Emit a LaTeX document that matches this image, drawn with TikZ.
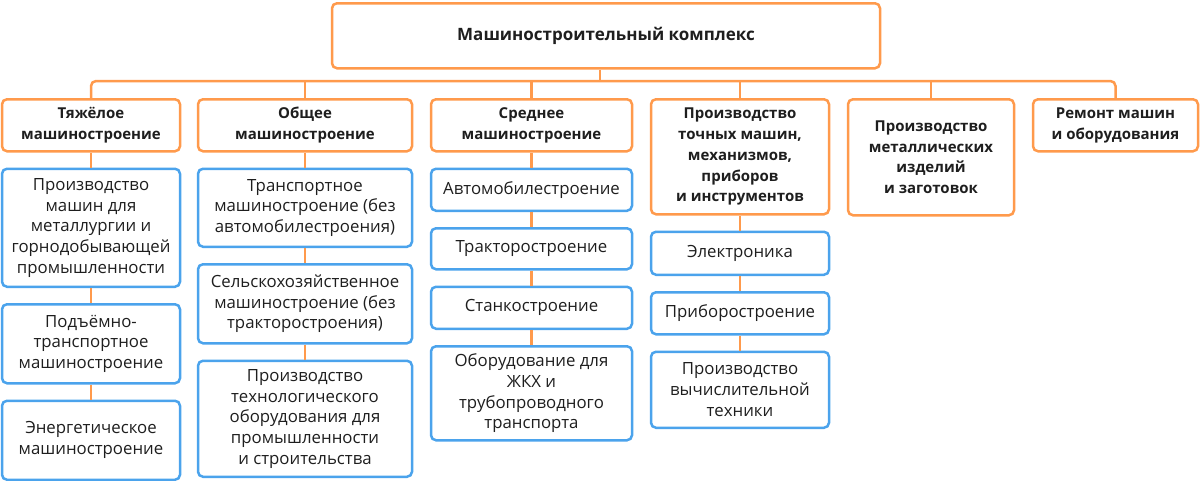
\documentclass[tikz,border=0pt]{standalone}
\usepackage{fontspec}
\setmainfont{Open Sans}
\usetikzlibrary{positioning}
\definecolor{accent}{HTML}{FF9A4C}
\definecolor{branch}{HTML}{4BA3EC}
\definecolor{ink}{HTML}{1E1E1E}

\begin{document}
\begin{tikzpicture}[
  x=1pt,y=-1pt,
  font=\fontsize{16.8}{20.7}\selectfont,
  node distance=15pt,
  head/.style={draw=accent,line width=2.5pt,rounded corners=5pt,align=center,inner sep=0pt,text=ink,font=\fontsize{15}{20.7}\selectfont\bfseries,anchor=north},
  item/.style={draw=branch,line width=2.5pt,rounded corners=5pt,align=center,inner sep=0pt,text=ink},
  link/.style={draw=accent,line width=2.5pt},
]
\useasboundingbox (0,0) rectangle (1200,480);

\node[head,minimum width=548pt,minimum height=65pt,font=\fontsize{17}{22}\selectfont\bfseries] (complex) at (606,2) {Машиностроительный комплекс};

% first level
\node[head,minimum width=178pt,minimum height=52pt] (heavy) at (91,98) {Тяжёлое\\машиностроение};
\node[head,minimum width=214pt,minimum height=52pt] (general) at (305,98) {Общее\\машиностроение};
\node[head,minimum width=201pt,minimum height=52pt] (medium) at (531.5,98) {Среднее\\машиностроение};
\node[head,minimum width=178pt,minimum height=115pt] (precise) at (740,98) {Производство\\точных машин,\\механизмов,\\приборов\\и инструментов};
\node[head,minimum width=166pt,minimum height=116pt] (metal) at (931,98) {Производство\\металлических\\изделий\\и заготовок};
\node[head,minimum width=165pt,minimum height=52pt] (repair) at (1115.5,98) {Ремонт машин\\и оборудования};

% heavy
\node[item,minimum width=178pt,minimum height=118pt,below=of heavy] (mining) {Производство\\машин для\\металлургии и\\горнодобывающей\\промышленности};
\node[item,minimum width=178pt,minimum height=79pt,below=of mining] (lifting) {Подъёмно-\\транспортное\\машиностроение};
\node[item,minimum width=178pt,minimum height=79pt,below=of lifting] (energy) {Энергетическое\\машиностроение};

% general
\node[item,minimum width=214pt,minimum height=78pt,below=of general] (transport) {Транспортное\\машиностроение (без\\автомобилестроения)};
\node[item,minimum width=214pt,minimum height=79pt,below=of transport] (agro) {Сельскохозяйственное\\машиностроение (без\\тракторостроения)};
\node[item,minimum width=214pt,minimum height=116pt,below=of agro] (techno) {Производство\\технологического\\оборудования для\\промышленности\\и строительства};

% medium
\node[item,minimum width=201pt,minimum height=42pt,below=of medium] (auto) {Автомобилестроение};
\node[item,minimum width=201pt,minimum height=41pt,below=of auto] (tractor) {Тракторостроение};
\node[item,minimum width=201pt,minimum height=42pt,below=of tractor] (machine) {Станкостроение};
\node[item,minimum width=201pt,minimum height=94pt,below=of machine] (housing) {Оборудование для\\ЖКХ и\\трубопроводного\\транспорта};

% precise
\node[item,minimum width=178pt,minimum height=43pt,below=of precise] (electro) {Электроника};
\node[item,minimum width=178pt,minimum height=42pt,below=of electro] (instrument) {Приборостроение};
\node[item,minimum width=178pt,minimum height=76pt,below=of instrument] (computer) {Производство\\вычислительной\\техники};

\coordinate (bus) at (600,81);
\draw[link] ([xshift=-6pt]complex.south) -- (bus);
\draw[link,rounded corners=5pt] (heavy.north) |- (bus) -| (repair.north);
\foreach \n in {general,medium,precise,metal}
  \draw[link] (\n.north) -- (\n.north |- bus);

\draw[link] (heavy) -- (mining) (mining) -- (lifting) (lifting) -- (energy);
\draw[link] (general) -- (transport) (transport) -- (agro) (agro) -- (techno);
\draw[link] (medium) -- (auto) (auto) -- (tractor) (tractor) -- (machine) (machine) -- (housing);
\draw[link] (precise) -- (electro) (electro) -- (instrument) (instrument) -- (computer);
\end{tikzpicture}
\end{document}
